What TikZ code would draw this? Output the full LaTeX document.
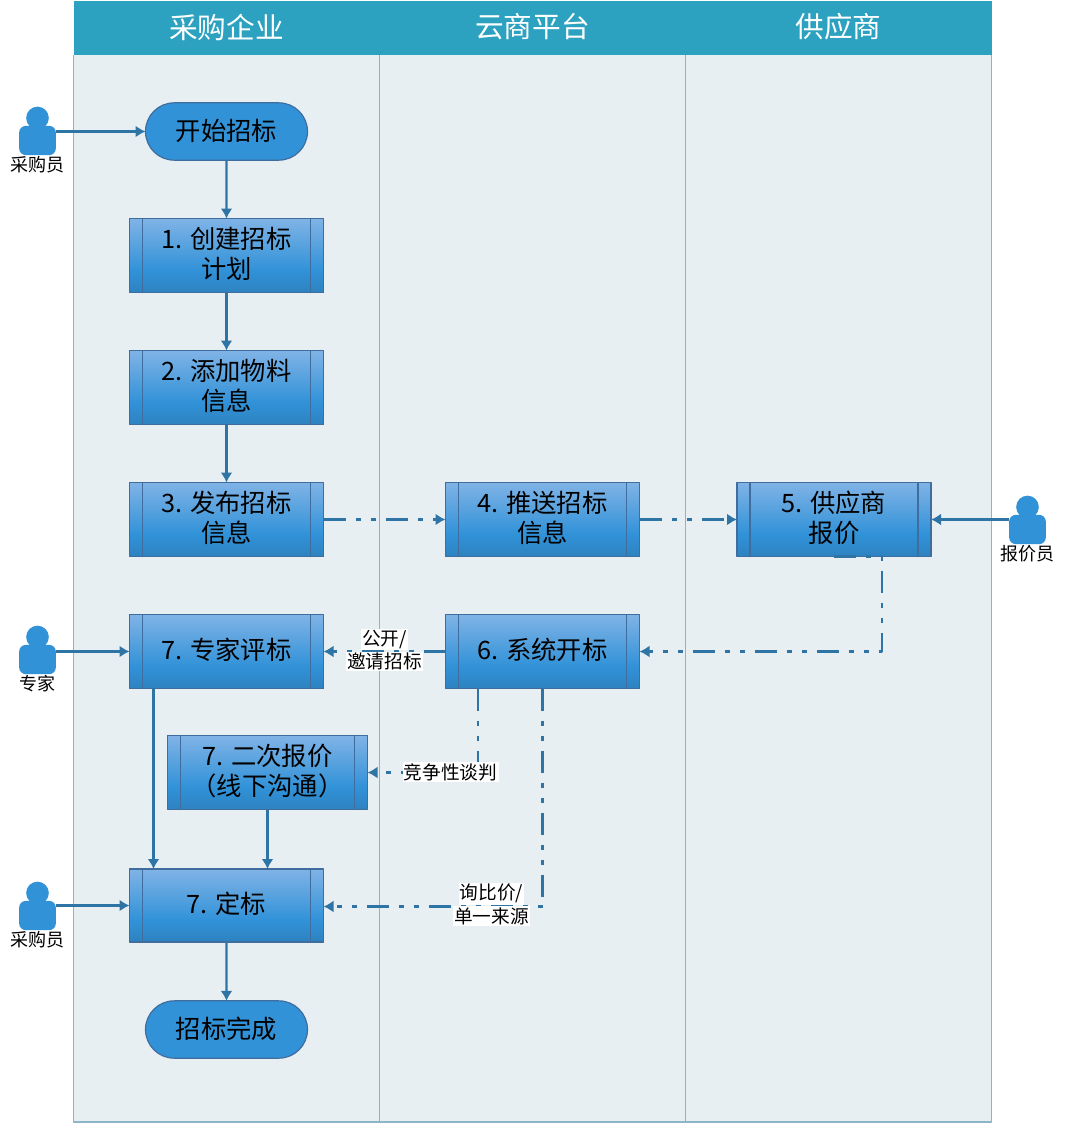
\documentclass[tikz,border=0pt]{standalone}
\usepackage{fontspec}
\setmainfont{Noto Sans CJK SC}
\usetikzlibrary{shapes.misc,arrows.meta}
\definecolor{lanebg}{HTML}{E8EFF3}
\definecolor{laneline}{HTML}{8DB4C9}
\definecolor{headbg}{HTML}{2CA2C0}
\definecolor{boxline}{HTML}{3F6E9E}
\definecolor{pillfill}{HTML}{3192D8}
\definecolor{flowline}{HTML}{2E75A6}
\definecolor{shadelow}{HTML}{2E82C0}
\definecolor{shadetop}{HTML}{80B3E6}
\pgfdeclareverticalshading{boxshade}{100bp}{color(0bp)=(shadelow); color(25bp)=(shadelow); color(40bp)=(pillfill); color(75bp)=(shadetop); color(100bp)=(shadetop)}
\setlength{\fboxsep}{1pt}
\newcommand{\whiteline}[1]{\colorbox{white}{#1}}
\tikzset{
	lanehead/.style={text=white,font=\fontsize{21.5}{26}\selectfont},
	procbox/.style={draw=boxline,line width=0.9pt,shading=boxshade,minimum width=145.5pt,minimum height=55.5pt,inner sep=0pt,outer sep=0pt,align=center,text depth=4pt,font=\fontsize{19}{22.5}\selectfont,
		path picture={\draw[boxline,line width=0.9pt] ([xshift=9.75pt]path picture bounding box.south west)--([xshift=9.75pt]path picture bounding box.north west)
			([xshift=-9.75pt]path picture bounding box.south east)--([xshift=-9.75pt]path picture bounding box.north east);}},
	pillbox/.style={draw=boxline,line width=0.9pt,fill=pillfill,rounded rectangle,minimum width=121.5pt,minimum height=43pt,inner sep=0pt,outer sep=0pt,text depth=3pt,font=\fontsize{19}{22.5}\selectfont},
	actorbody/.style={fill=pillfill,rounded corners=5pt,minimum width=27.5pt,minimum height=22pt,inner sep=0pt,outer sep=0pt},
	actorhead/.style={fill=pillfill,circle,minimum size=17pt,inner sep=0pt,outer sep=0pt},
	actorname/.style={inner sep=0pt,font=\fontsize{13.5}{16}\selectfont},
	flowlabel/.style={inner sep=0pt,align=center,font=\fontsize{14}{17.5}\selectfont},
	solidflow/.style={flowline,line width=1.7pt,-{Latex[length=7.5pt,width=9pt]}},
	dashflow/.style={flowline,line width=1.7pt,dash pattern=on 16.5pt off 7.5pt on 3.75pt off 7.5pt on 3.75pt off 7.5pt,-{Latex[length=7.5pt,width=9pt]}},
}
% name, x, y of head, label
\newcommand{\actorfig}[4]{
	\node[actorhead] (#1head) at (#2,#3) {};
	\node[actorbody] (#1) at (#2,#3+22.5) {};
	\node[actorname] (#1name) at (#2-0.5,#3+47) {#4};
}
\begin{document}
\begin{tikzpicture}[x=0.75pt,y=-0.75pt,line join=round]
	\useasboundingbox (0,0) rectangle (1064,1124);
	% lanes
	\fill[lanebg] (73.5,55) rectangle (991.5,1122);
	\draw[laneline,line width=0.8pt] (73.5,55)--(73.5,1122)--(991.5,1122)--(991.5,55) (379.5,55)--(379.5,1122) (685.5,55)--(685.5,1122);
	\fill[headbg] (73.5,1) rectangle (991.5,55);
	\node[lanehead] (laneA) at (226.5,27) {采购企业};
	\node[lanehead] (laneB) at (532.5,27) {云商平台};
	\node[lanehead] (laneC) at (838.5,27) {供应商};
	% nodes
	\node[pillbox] (start) at (226.5,131.5) {开始招标};
	\node[procbox] (plan) at (226.5,255.5) {1. 创建招标\\计划};
	\node[procbox] (goods) at (226.5,387.5) {2. 添加物料\\信息};
	\node[procbox] (publish) at (226.5,519.5) {3. 发布招标\\信息};
	\node[procbox] (push) at (542.5,519.5) {4. 推送招标\\信息};
	\node[procbox] (quote) at (834,519.5) {5. 供应商\\报价};
	\node[procbox] (review) at (226.5,651.5) {7. 专家评标};
	\node[procbox] (opening) at (542.5,651.5) {6. 系统开标};
	\node[procbox,minimum width=150pt] (second) at (267.5,772.5) {7. 二次报价\\（线下沟通）};
	\node[procbox,minimum height=54.75pt] (award) at (226.5,905.5) {7. 定标};
	\node[pillbox] (finish) at (226.5,1029.5) {招标完成};
	\actorfig{buyerA}{37.5}{118}{采购员}
	\actorfig{quoter}{1027.5}{507}{报价员}
	\actorfig{expert}{37.5}{637}{专家}
	\actorfig{buyerB}{37.5}{893}{采购员}
	% turning points
	\coordinate (turnquote) at (882,651.5);
	\coordinate (turnsecond) at (478,772.5);
	\coordinate (turnaward) at (542.5,906.5);
	\coordinate (reviewx) at (153.5,700);
	% connectors
	\draw[solidflow] (start)--(plan);
	\draw[solidflow] (plan)--(goods);
	\draw[solidflow] (goods)--(publish);
	\draw[solidflow] (buyerA.east |- start)--(start);
	\draw[solidflow] (quoter.west |- quote)--(quote);
	\draw[solidflow] (expert.east |- review)--(review);
	\draw[solidflow] (buyerB.east |- award)--(award);
	\draw[solidflow] (review.south -| reviewx)--(award.north -| reviewx);
	\draw[solidflow] (second)--(award.north -| second);
	\draw[solidflow] (award)--(finish);
	\draw[dashflow] (publish)--(push);
	\draw[dashflow] (push)--(quote);
	\draw[dashflow] (quote.south)--(quote.south -| turnquote)--(turnquote)--(opening.east |- turnquote);
	\draw[dashflow] (opening)--(review);
	\draw[dashflow] (opening.south -| turnsecond)--(turnsecond)--(second.east |- turnsecond);
	\draw[dashflow] (opening.south)--(turnaward)--(award.east |- turnaward);
	% labels
	\node[flowlabel] (openlabel) at (384.5,650) {\whiteline{公开/}\\\whiteline{邀请招标}};
	\node[flowlabel] (talklabel) at (450.5,772) {\whiteline{竞争性谈判}};
	\node[flowlabel] (inquirylabel) at (491.5,904.5) {\whiteline{询比价/}\\\whiteline{单一来源}};
\end{tikzpicture}
\end{document}
